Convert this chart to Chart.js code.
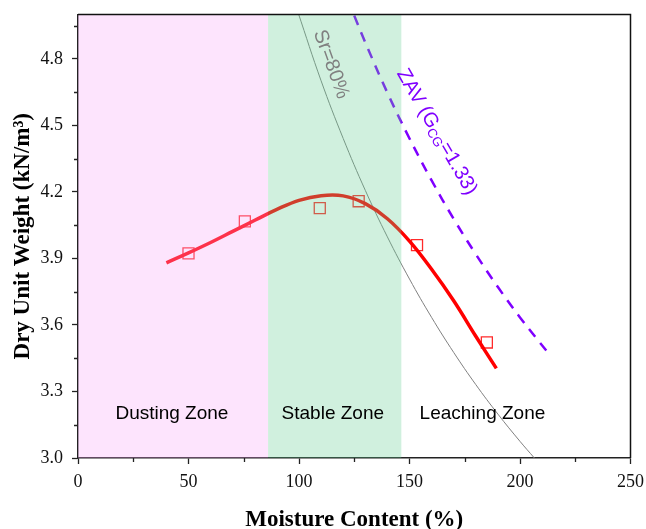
<!DOCTYPE html>
<html>
<head>
<meta charset="utf-8">
<script src="https://cdn.jsdelivr.net/npm/chart.js@4"></script>
<style>
  html, body { margin: 0; padding: 0; background: #fff; }
  #wrap { width: 646px; height: 529px; }
</style>
</head>
<body>
<div id="wrap"><canvas id="myChart" width="646" height="529"></canvas></div>
<script>
// measured points
const pointMoisture = [50, 75.5, 109.4, 127, 153.4, 185];
const pointWeight = [3.923, 4.067, 4.127, 4.158, 3.960, 3.521];

// fitted curve
const fitMoisture = [40, 50, 60, 70, 80, 90, 100, 110, 120, 130, 140, 150, 160, 170, 180, 189.3];
const fitWeight = [3.880, 3.925, 3.972, 4.022, 4.072, 4.121, 4.162, 4.183, 4.182, 4.147, 4.079, 3.978, 3.851, 3.709, 3.549, 3.404];

// Sr = 80% line
const srMoisture = [99.5, 110, 120, 130, 140, 150, 160, 170, 180, 190, 200, 206.5];
const srWeight = [5.011, 4.701, 4.441, 4.207, 3.997, 3.807, 3.634, 3.476, 3.331, 3.198, 3.075, 3.0];

// zero air voids line
const zavMoisture = [125, 130, 140, 150, 160, 170, 180, 190, 200, 214];
const zavWeight = [4.995, 4.874, 4.647, 4.441, 4.252, 4.078, 3.919, 3.771, 3.634, 3.458];

// zones
const zoneNames = ['Dusting Zone', 'Stable Zone', 'Leaching Zone'];
const zoneEdges = [0, 86, 146.3];

// ticks
const xTicks = [0, 50, 100, 150, 200, 250];
const xMinor = [25, 75, 125, 175, 225];
const yTicks = [3.0, 3.3, 3.6, 3.9, 4.2, 4.5, 4.8];
const yMinor = [3.15, 3.45, 3.75, 4.05, 4.35, 4.65, 4.95];

function toPoints(xs, ys) {
    return xs.map((x, i) => ({ x: x, y: ys[i] }));
}

const overlay = {
    id: 'overlay',
    afterDatasetsDraw(chart) {
        const { ctx, chartArea: area, scales: { x, y } } = chart;
        const fills = ['rgba(248,165,248,0.3)', 'rgba(98,205,145,0.3)'];
        ctx.save();
        for (let i = 0; i < fills.length; i++) {
            const x0 = x.getPixelForValue(zoneEdges[i]);
            const x1 = x.getPixelForValue(zoneEdges[i + 1]);
            ctx.fillStyle = fills[i];
            ctx.fillRect(x0, area.top, x1 - x0, area.bottom - area.top);
        }

        // zone labels
        ctx.fillStyle = '#000';
        ctx.font = '19px "Liberation Sans", Arial, sans-serif';
        ctx.textAlign = 'center';
        ctx.textBaseline = 'middle';
        const labelX = [42.5, 115.3, 183];
        zoneNames.forEach((name, i) => {
            ctx.fillText(name, x.getPixelForValue(labelX[i]), y.getPixelForValue(3.200));
        });

        // Sr = 80% label
        ctx.save();
        ctx.translate(x.getPixelForValue(114.5), y.getPixelForValue(4.775));
        ctx.rotate(70 * Math.PI / 180);
        ctx.fillStyle = '#808080';
        ctx.font = '20px "Liberation Sans", Arial, sans-serif';
        ctx.fillText('Sr=80%', 0, 0);
        ctx.restore();

        // ZAV label with subscript
        ctx.save();
        ctx.translate(x.getPixelForValue(162.3), y.getPixelForValue(4.47));
        ctx.rotate(60 * Math.PI / 180);
        ctx.fillStyle = '#7f00ff';
        ctx.textAlign = 'left';
        const big = '20px "Liberation Sans", Arial, sans-serif';
        const small = '13px "Liberation Sans", Arial, sans-serif';
        ctx.font = big;
        const w1 = ctx.measureText('ZAV (G').width;
        const w3 = ctx.measureText('=1.33)').width;
        ctx.font = small;
        const w2 = ctx.measureText('CG').width;
        let cx = -(w1 + w2 + w3) / 2;
        ctx.font = big;
        ctx.fillText('ZAV (G', cx, 0);
        cx += w1;
        ctx.font = small;
        ctx.fillText('CG', cx, 5);
        cx += w2;
        ctx.font = big;
        ctx.fillText('=1.33)', cx, 0);
        ctx.restore();

        ctx.restore();
    },
    afterDraw(chart) {
        const { ctx, chartArea: area, scales: { x, y } } = chart;
        ctx.save();
        ctx.strokeStyle = '#222';
        ctx.lineWidth = 1.3;
        ctx.beginPath();
        xMinor.forEach(v => {
            const px = Math.round(x.getPixelForValue(v)) + 0.5;
            ctx.moveTo(px, area.bottom);
            ctx.lineTo(px, area.bottom + 4);
        });
        yMinor.forEach(v => {
            const py = Math.round(y.getPixelForValue(v)) + 0.5;
            ctx.moveTo(area.left, py);
            ctx.lineTo(area.left - 4, py);
        });
        ctx.stroke();

        // top and right frame
        ctx.strokeStyle = '#111';
        ctx.lineWidth = 1.5;
        ctx.beginPath();
        ctx.moveTo(area.left, area.top);
        ctx.lineTo(area.right, area.top);
        ctx.lineTo(area.right, area.bottom);
        ctx.stroke();
        ctx.restore();
    }
};

const ctx = document.getElementById('myChart');

const tickFont = { family: '"Liberation Serif", "Times New Roman", serif', size: 18 };
const titleFont = { family: '"Liberation Serif", "Times New Roman", serif', size: 23, weight: 'bold' };

new Chart(ctx, {
    type: 'line',
    data: {
        datasets: [
            {
                label: 'Fit',
                data: toPoints(fitMoisture, fitWeight),
                borderColor: '#ff0000',
                borderWidth: 3.5,
                pointRadius: 0,
                tension: 0.4
            },
            {
                label: 'Sr=80%',
                data: toPoints(srMoisture, srWeight),
                borderColor: '#808080',
                borderWidth: 1,
                pointRadius: 0,
                tension: 0.4
            },
            {
                label: 'ZAV',
                data: toPoints(zavMoisture, zavWeight),
                borderColor: '#7f00ff',
                borderWidth: 2.5,
                borderDash: [10, 8],
                pointRadius: 0,
                tension: 0.4
            },
            {
                label: 'Measured',
                data: toPoints(pointMoisture, pointWeight),
                showLine: false,
                pointStyle: 'rect',
                pointRadius: 7.8,
                pointBorderColor: '#ff2a2a',
                pointBorderWidth: 1.3,
                pointBackgroundColor: 'rgba(0,0,0,0)'
            }
        ]
    },
    options: {
        responsive: false,
        animation: false,
        events: [],
        layout: { padding: { top: 14.5, right: 15.5, left: 0, bottom: 0 } },
        plugins: {
            legend: { display: false },
            tooltip: { enabled: false }
        },
        scales: {
            x: {
                type: 'linear',
                min: 0,
                max: 250,
                afterFit(scale) {
                    scale.height = 71;
                    scale.paddingLeft = 0;
                    scale.paddingRight = 0;
                },
                afterBuildTicks(scale) { scale.ticks = xTicks.map(v => ({ value: v })); },
                grid: { drawOnChartArea: false, drawTicks: true, tickLength: 6, tickColor: '#222', tickWidth: 1.3 },
                border: { display: true, color: '#222', width: 1.5 },
                ticks: { font: tickFont, color: '#111', padding: 7, maxRotation: 0 },
                title: { display: true, text: 'Moisture Content (%)', font: titleFont, color: '#000', padding: { top: 0, bottom: -5 } }
            },
            y: {
                type: 'linear',
                min: 3.0,
                max: 5.0,
                afterFit(scale) {
                    scale.width = 78;
                    scale.paddingTop = 0;
                    scale.paddingBottom = 0;
                },
                afterBuildTicks(scale) { scale.ticks = yTicks.map(v => ({ value: v })); },
                grid: { drawOnChartArea: false, drawTicks: true, tickLength: 6, tickColor: '#222', tickWidth: 1.3 },
                border: { display: true, color: '#222', width: 1.5 },
                ticks: { font: tickFont, color: '#111', padding: 9, callback: v => v.toFixed(1) },
                title: { display: true, text: 'Dry Unit Weight (kN/m³)', font: titleFont, color: '#000', padding: { top: 9, bottom: 0 } }
            }
        }
    },
    plugins: [overlay]
});
</script>
</body>
</html>
